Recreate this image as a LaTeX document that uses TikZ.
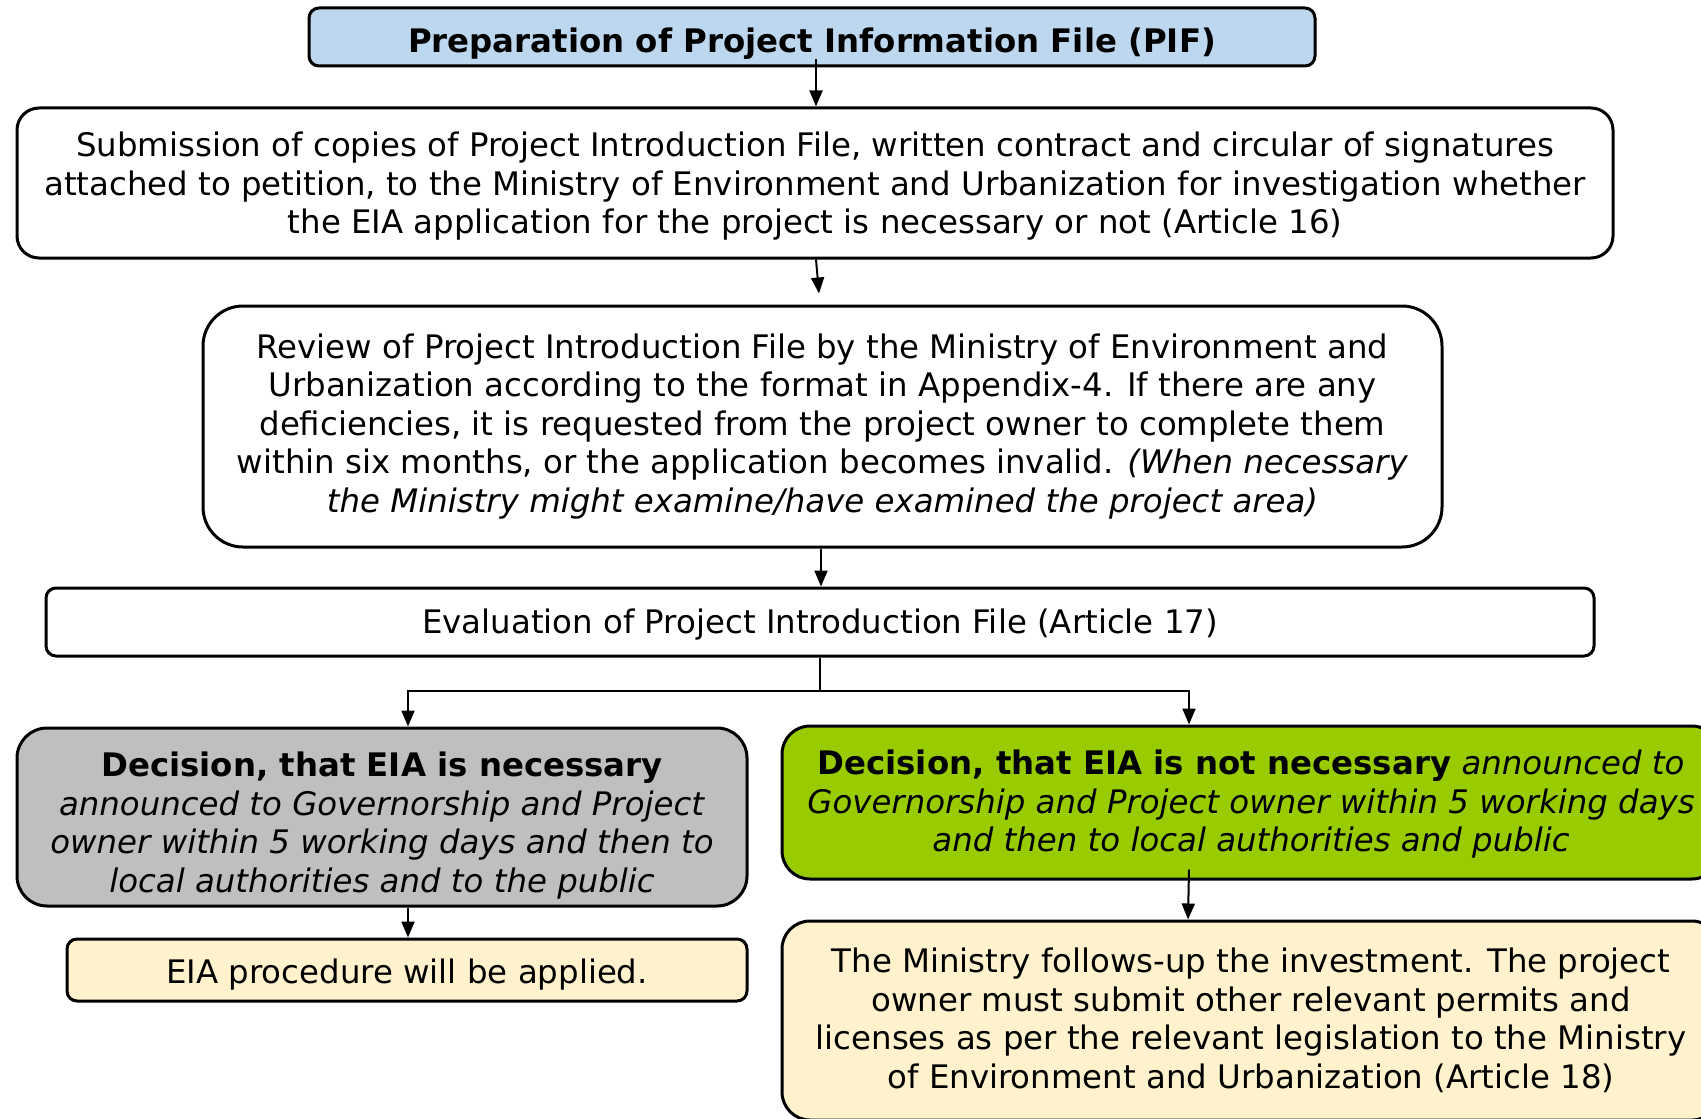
\documentclass[tikz,border=0pt]{standalone}
\usepackage{fontspec}
\setmainfont{DejaVu Sans}
\usetikzlibrary{arrows.meta,calc}
\definecolor{pifblue}{HTML}{BDD7EE}
\definecolor{decgray}{HTML}{BFBFBF}
\definecolor{decgreen}{HTML}{99CC00}
\definecolor{notecream}{HTML}{FFF2CC}
\begin{document}
\begin{tikzpicture}[x=0.5pt,y=-0.5pt,
  box/.style={draw, line width=1.5pt, inner sep=0pt},
  boxtext/.style={align=center, inner sep=0pt,
    font=\fontsize{16.2}{19.25}\selectfont},
  flow/.style={-{Triangle[length=8pt,width=6.5pt]}, line width=1pt}]
\useasboundingbox (0,0) rectangle (1701,1118);

% process boxes
\node[box, fill=pifblue, rounded corners=5pt, minimum width=503pt, minimum height=29pt,
  label={[boxtext, yshift=-3.3pt]center:{\bfseries Preparation of Project Information File (PIF)}}]
  (pif) at (812,37) {};
\node[box, fill=white, rounded corners=11pt, minimum width=798pt, minimum height=75pt,
  label={[boxtext, yshift=-1.6pt]center:{Submission of copies of Project Introduction File, written contract and circular of signatures\\
  attached to petition, to the Ministry of Environment and Urbanization for investigation whether\\
  the EIA application for the project is necessary or not (Article 16)}}]
  (sub) at (815,183) {};
\node[box, fill=white, rounded corners=20pt, minimum width=619.5pt, minimum height=120.5pt,
  label={[boxtext]center:{Review of Project Introduction File by the Ministry of Environment and\\
  Urbanization according to the format in Appendix-4. If there are any\\
  deficiencies, it is requested from the project owner to complete them\\
  within six months, or the application becomes invalid. \textit{(When necessary}\\
  \textit{the Ministry might examine/have examined the project area)}}}]
  (rev) at (822.5,426.5) {};
\node[box, fill=white, rounded corners=5pt, minimum width=774pt, minimum height=34pt,
  label={[boxtext, yshift=-1.1pt]center:{Evaluation of Project Introduction File (Article 17)}}]
  (eval) at (820,622) {};

% decisions
\node[box, fill=decgray, rounded corners=15pt, minimum width=365pt, minimum height=89pt,
  label={[boxtext, yshift=-4.3pt]center:{\textbf{Decision, that EIA is necessary}\\
  \textit{announced to Governorship and Project}\\
  \textit{owner within 5 working days and then to}\\
  \textit{local authorities and to the public}}}]
  (ldec) at (382,817) {};
\node[box, fill=decgreen, rounded corners=14pt, minimum width=469pt, minimum height=76.5pt,
  label={[boxtext, yshift=-0.8pt]center:{\textbf{Decision, that EIA is not necessary} \textit{announced to}\\
  \textit{Governorship and Project owner within 5 working days}\\
  \textit{and then to local authorities and public}}}]
  (rdec) at (1251,802.5) {};

% outcomes
\node[box, fill=notecream, rounded corners=5pt, minimum width=340pt, minimum height=31pt,
  label={[boxtext, yshift=-2.2pt]center:{EIA procedure will be applied.}}]
  (eia) at (407,970) {};
\node[box, fill=notecream, rounded corners=14pt, minimum width=469pt, minimum height=99.5pt,
  label={[boxtext]center:{The Ministry follows-up the investment. The project\\
  owner must submit other relevant permits and\\
  licenses as per the relevant legislation to the Ministry\\
  of Environment and Urbanization (Article 18)}}]
  (min) at (1251,1020.5) {};

% connectors
\coordinate (split) at (820,691);
\draw[flow] ($(pif.south)+(4,-8)$) -- ($(sub.north)+(1,0)$);
\draw[flow] ($(sub.south)+(1,0)$) -- ($(rev.north)+(-3.5,-11)$);
\draw[flow] ($(rev.south)+(-1.5,0)$) -- ($(eval.north)+(1,0)$);
\draw[line width=1pt] (eval.south) -- (split);
\draw[flow] (split) -| ($(ldec.north)+(26,0)$);
\draw[flow] (split) -| ($(rdec.north)+(-62,0)$);
\draw[flow] ($(ldec.south)+(26,0)$) -- ($(eia.north)+(1,0)$);
\draw[flow] ($(rdec.south)+(-62,-11)$) -- ($(min.north)+(-63,0)$);
\end{tikzpicture}
\end{document}
